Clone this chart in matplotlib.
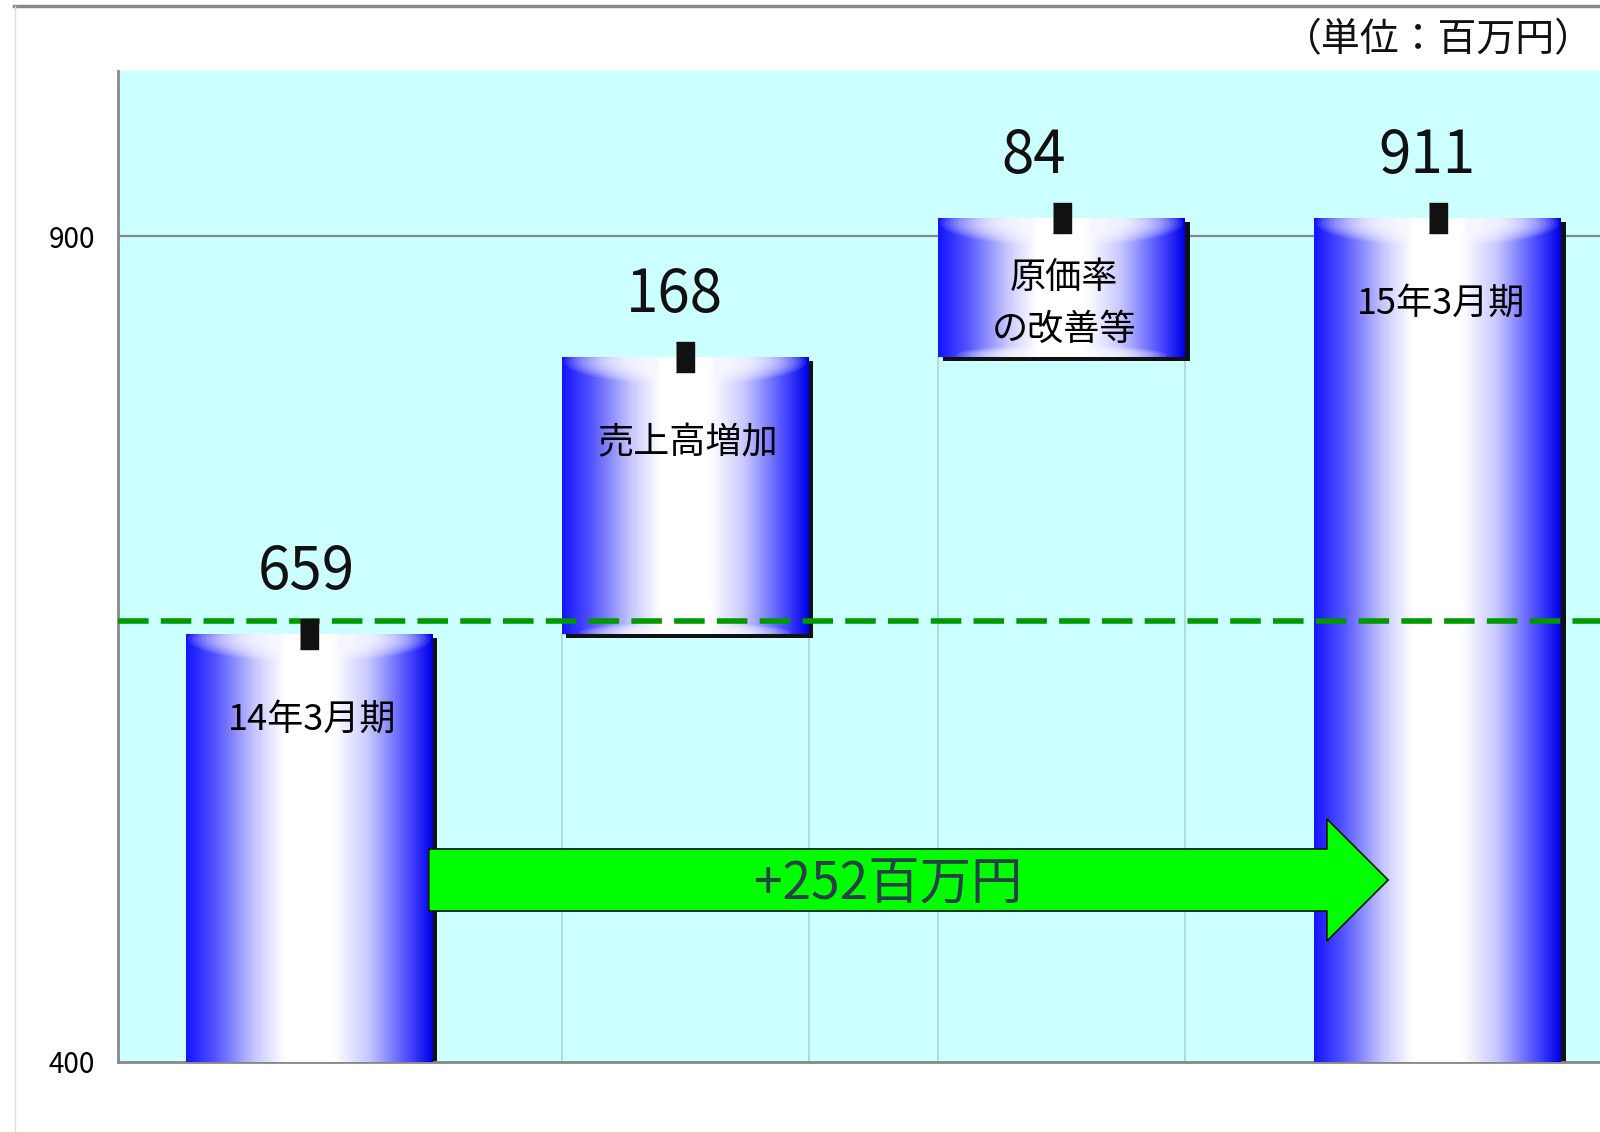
import matplotlib.pyplot as plt
import numpy as np
from matplotlib.colors import LinearSegmentedColormap
from matplotlib.patches import Rectangle, Ellipse, FancyArrow
from matplotlib.lines import Line2D

plt.rcParams['font.family'] = ['Noto Sans CJK JP', 'DejaVu Sans']

# data
categories = ['14年3月期', '売上高増加', '原価率\nの改善等', '15年3月期']
start_value = 659
changes = [168, 84]
end_value = 911
value_labels = ['659', '168', '84', '911']
ref_line = 667          # green dashed line
y_min, y_max = 400, 1000
y_ticks = [400, 900]
unit_text = '（単位：百万円）'
arrow_text = '+252百万円'

# waterfall bottoms / tops
tops = [start_value]
bottoms = [y_min]
for c in changes:
    bottoms.append(tops[-1])
    tops.append(tops[-1] + c)
bottoms.append(y_min)
tops.append(end_value)

x = np.arange(len(categories))
bar_w = 0.656
label_dx = [-2, -8, -20, -8]   # value label nudges (points)

fig = plt.figure(figsize=(16, 11.32), dpi=100)
ax = fig.add_axes([0.074, 0.0622, 0.926, 0.875])
ax.set_facecolor('#ccffff')
ax.set_xlim(-0.507, 3.431)
ax.set_ylim(y_min, y_max)

# gridline at 900
ax.axhline(900, color='#888888', lw=1.6, zorder=0.5)

cmap = LinearSegmentedColormap.from_list('cyl', [
    (0.0, '#1414ff'), (0.12, '#5555ff'), (0.28, '#c8c8ff'), (0.4, '#ffffff'),
    (0.6, '#ffffff'), (0.74, '#c8c8ff'), (0.9, '#4d4dff'), (1.0, '#0000e8')])
grad = np.linspace(0, 1, 256).reshape(1, -1)

for i in range(len(x)):
    left = x[i] - bar_w / 2
    b, t = bottoms[i], tops[i]
    # faint outline of the hidden base for floating bars
    if i in (1, 2):
        ax.add_patch(Rectangle((left, y_min), bar_w, b - y_min, facecolor='none',
                               edgecolor='#a8d4d4', lw=1.2, zorder=1))
    # shadow
    ax.add_patch(Rectangle((left + 0.012, b - 2.5), bar_w, t - b, facecolor='#111111',
                           edgecolor='none', zorder=2))
    rect = Rectangle((left, b), bar_w, t - b, facecolor='none', edgecolor='none', zorder=3)
    ax.add_patch(rect)
    im = ax.imshow(grad, cmap=cmap, aspect='auto', extent=(left, left + bar_w, b, t),
                   zorder=3, interpolation='bicubic')
    im.set_clip_path(rect)
    # soft cylinder top highlight
    for k in range(14):
        el = Ellipse((x[i], t - 3), bar_w * (0.98 - 0.035 * k), 28 - 1.4 * k,
                     facecolor='white', edgecolor='none', alpha=0.1, zorder=3.5)
        ax.add_patch(el)
        el.set_clip_path(rect)
    if i in (1, 2):
        for k in range(8):
            el = Ellipse((x[i], b + 1), bar_w * (0.85 - 0.05 * k), 12 - 1 * k,
                         facecolor='white', edgecolor='none', alpha=0.13, zorder=3.5)
            ax.add_patch(el)
            el.set_clip_path(rect)

# small black markers at bar tops
ax.plot(x, tops, linestyle='none', marker=[(-0.6, -1), (0.6, -1), (0.6, 1), (-0.6, 1)],
        ms=22, color='#111111', zorder=6)

# value labels above bars, category labels inside
for i in range(len(x)):
    ax.annotate(value_labels[i], (x[i], tops[i]), xytext=(label_dx[i], 44),
                textcoords='offset points', ha='center', va='center', fontsize=42,
                color='#111111', zorder=7)
    ax.annotate(categories[i], (x[i], tops[i]), xytext=(2, -62), textcoords='offset points',
                ha='center', va='center', fontsize=26, color='black', linespacing=1.55,
                zorder=7)

# green dashed reference line
ax.axhline(ref_line, color='#009900', lw=4, dashes=(5.5, 2.2), zorder=5)

# green arrow from first to last bar
arr_y = 510
arrow = FancyArrow(x[0] + bar_w / 2 - 0.01, arr_y, x[3] - x[0] - 0.45, 0, width=37.6,
                   head_width=74, head_length=0.163, length_includes_head=True,
                   facecolor='#00ff00', edgecolor='#111111', lw=1.2, zorder=8)
ax.add_patch(arrow)
ax.text(1.54, arr_y - 3, arrow_text, ha='center', va='center',
        fontsize=37, color='#2a3f48', zorder=9)

# axes styling
ax.set_xticks([])
ax.set_yticks(y_ticks)
ax.set_yticklabels([str(v) for v in y_ticks], fontsize=20)
ax.tick_params(axis='y', length=0, pad=17)
for s in ['top', 'right']:
    ax.spines[s].set_visible(False)
for s in ['left', 'bottom']:
    ax.spines[s].set_color('#888888')
    ax.spines[s].set_linewidth(2)

fig.text(0.996, 0.964, unit_text, ha='right', va='center', fontsize=28, color='#111111')

# outer frame lines
fig.add_artist(Line2D([0.009, 1], [0.995, 0.995], color='#888888', lw=2.5))
fig.add_artist(Line2D([0.0095, 0.0095], [0, 0.995], color='#dddddd', lw=1))

fig.savefig('out.png', dpi=100)
